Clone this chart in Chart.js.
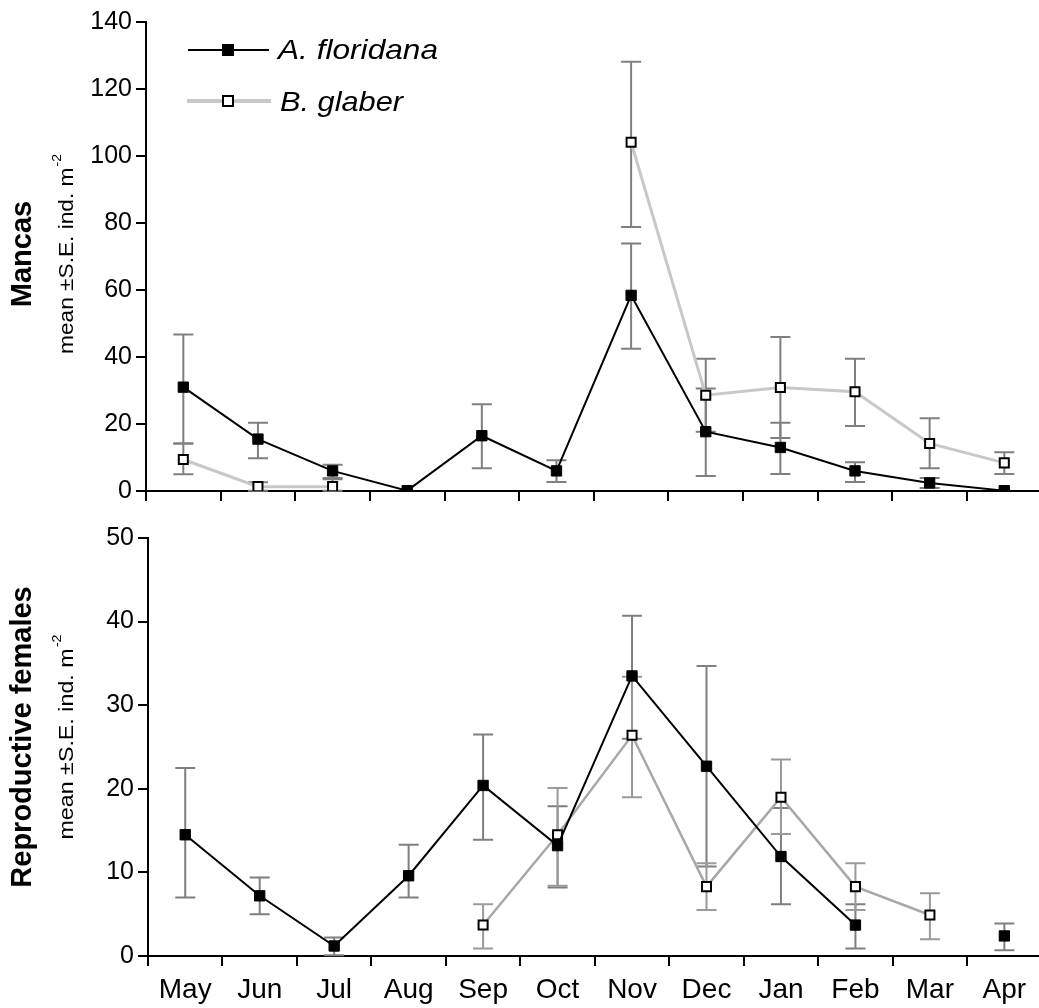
<!DOCTYPE html>
<html><head><meta charset="utf-8">
<script src="https://cdn.jsdelivr.net/npm/chart.js@4/dist/chart.umd.min.js"></script>
<style>
html,body{margin:0;padding:0;background:#fff;overflow:hidden;}
#wrap{position:relative;width:1039px;height:1008px;overflow:hidden;background:#fff;}
canvas{position:absolute;left:0;}
</style></head><body>
<div id="wrap">
<canvas id="cTop" width="1050" height="510" style="top:0"></canvas>
<canvas id="cBot" width="1050" height="498" style="top:510px"></canvas>
</div>
<script>
// ---- categories and tick labels ----
const months = ['May','Jun','Jul','Aug','Sep','Oct','Nov','Dec','Jan','Feb','Mar','Apr'];
const mancasTicks = [0, 20, 40, 60, 80, 100, 120, 140];
const femaleTicks = [0, 10, 20, 30, 40, 50];
const seriesNames = ['A. floridana', 'B. glaber'];

// ---- Mancas (top panel) ----
const mancasFloridana   = [31, 15.5, 6, 0.1, 16.5, 6, 58.4, 17.7, 13, 6, 2.4, 0.1];
const mancasFloridanaHi = [46.7, 20.4, 7.8, null, 25.9, 9.2, 73.9, 30.6, 20.4, 8.6, 3.9, null];
const mancasFloridanaLo = [14.2, 9.8, 3.9, null, 6.8, 2.7, 42.5, 4.5, 5.1, 2.7, 0.9, null];
const mancasGlaber      = [9.4, 1.3, 1.3, null, null, null, 104.1, 28.6, 30.9, 29.6, 14.2, 8.4];
const mancasGlaberHi    = [14.2, 2.6, 3.5, null, null, null, 128.1, 39.5, 46.0, 39.5, 21.7, 11.6];
const mancasGlaberLo    = [5.0, 0.1, 0.1, null, null, null, 78.8, 17.7, 15.8, 19.4, 6.8, 5.1];

// ---- Reproductive females (bottom panel) ----
const femFloridana   = [14.5, 7.2, 1.2, 9.6, 20.4, 13.2, 33.5, 22.7, 11.9, 3.7, null, 2.4];
const femFloridanaHi = [22.5, 9.4, 2.2, 13.3, 26.5, 17.9, 40.7, 34.7, 17.7, 6.2, null, 3.9];
const femFloridanaLo = [7.0, 5.0, 0.1, 7.0, 13.9, 8.2, 26.0, 10.7, 6.2, 0.9, null, 0.7];
const femGlaber      = [null, null, null, null, 3.7, 14.5, 26.4, 8.3, 19.0, 8.3, 4.9, null];
const femGlaberHi    = [null, null, null, null, 6.2, 20.1, 33.4, 11.1, 23.5, 11.1, 7.5, null];
const femGlaberLo    = [null, null, null, null, 0.9, 8.4, 19.0, 5.5, 14.6, 5.5, 2.0, null];

const FONT = "'Liberation Sans', Arial, Helvetica, sans-serif";

const errorBars = {
  id: 'errorBars',
  beforeDatasetsDraw(chart) {
    const ctx = chart.ctx, x = chart.scales.x, y = chart.scales.y;
    chart.data.datasets.forEach((ds) => {
      ctx.save();
      ctx.strokeStyle = ds.errColor;
      ctx.lineWidth = 2;
      ds.data.forEach((v, i) => {
        const hi = ds.errHi[i], lo = ds.errLo[i];
        if (v === null || hi === null || lo === null) return;
        const px = x.getPixelForValue(i);
        const pHi = y.getPixelForValue(hi), pLo = y.getPixelForValue(lo);
        ctx.beginPath();
        ctx.moveTo(px, pHi); ctx.lineTo(px, pLo);
        ctx.moveTo(px - 10, pHi); ctx.lineTo(px + 10, pHi);
        ctx.moveTo(px - 10, pLo); ctx.lineTo(px + 10, pLo);
        ctx.stroke();
      });
      ctx.restore();
    });
  }
};

function axisTitle(main, cx1, cy, cx2, subLen) {
  return {
    id: 'axisTitle',
    afterDraw(chart) {
      const ctx = chart.ctx;
      ctx.save();
      ctx.fillStyle = '#000';
      ctx.textAlign = 'center';
      ctx.textBaseline = 'middle';
      ctx.translate(cx1, cy); ctx.rotate(-Math.PI / 2);
      ctx.font = 'bold 29px ' + FONT;
      ctx.fillText(main, 0, 0);
      ctx.restore();
      ctx.save();
      ctx.fillStyle = '#000';
      ctx.textBaseline = 'middle';
      ctx.translate(cx2, cy); ctx.rotate(-Math.PI / 2);
      ctx.font = '21px ' + FONT;
      const sub = 'mean \u00b1S.E. ind. m';
      const w = ctx.measureText(sub).width;
      ctx.font = '13px ' + FONT;
      const w2 = ctx.measureText('-2').width;
      const k = subLen / (w + w2 + 1);
      ctx.scale(k, 1);
      const start = -(w + w2 + 1) / 2;
      ctx.font = '21px ' + FONT;
      ctx.fillText(sub, start, 0);
      ctx.font = '13px ' + FONT;
      ctx.fillText('-2', start + w + 1, -10);
      ctx.restore();
    }
  };
}

const legendPlugin = {
  id: 'customLegend',
  afterDraw(chart) {
    const ctx = chart.ctx;
    ctx.save();
    // A. floridana
    ctx.strokeStyle = '#000'; ctx.lineWidth = 2;
    ctx.beginPath(); ctx.moveTo(188, 50); ctx.lineTo(269, 50); ctx.stroke();
    ctx.fillStyle = '#000'; ctx.fillRect(222, 44, 12, 12);
    // B. glaber
    ctx.strokeStyle = '#c8c8c8'; ctx.lineWidth = 4;
    ctx.beginPath(); ctx.moveTo(187, 101); ctx.lineTo(271, 101); ctx.stroke();
    ctx.fillStyle = '#fff'; ctx.fillRect(223, 96, 10, 10);
    ctx.strokeStyle = '#000'; ctx.lineWidth = 2; ctx.strokeRect(223, 96, 10, 10);
    ctx.fillStyle = '#000';
    ctx.font = 'italic 28px ' + FONT;
    ctx.textBaseline = 'middle';
    const drawStretched = (txt, x, y, targetW) => {
      const w = ctx.measureText(txt).width;
      ctx.save();
      ctx.translate(x, y);
      ctx.scale(targetW / w, 1);
      ctx.fillText(txt, 0, 0);
      ctx.restore();
    };
    drawStretched(seriesNames[0], 278, 51, 160);
    drawStretched(seriesNames[1], 280, 103, 123);
    ctx.restore();
  }
};

function makeDatasets(fl, flHi, flLo, gl, glHi, glLo, glLine, glErr, glWidth) {
  return [
    { label: seriesNames[0], data: fl, errHi: flHi, errLo: flLo, errColor: '#7f7f7f',
      borderColor: '#000', borderWidth: 2, pointStyle: 'rect', pointRadius: 7.3,
      pointBackgroundColor: '#000', pointBorderColor: '#000', pointBorderWidth: 1,
      tension: 0, spanGaps: false },
    { label: seriesNames[1], data: gl, errHi: glHi, errLo: glLo, errColor: glErr,
      borderColor: glLine, borderWidth: glWidth, pointStyle: 'rect', pointRadius: 6.4,
      pointBackgroundColor: '#fff', pointBorderColor: '#000', pointBorderWidth: 2,
      tension: 0, spanGaps: false }
  ];
}

function makeOptions(yMax, yTicks, yWidth, xHeight, padTop, padRight, showX) {
  return {
    responsive: false, animation: false, devicePixelRatio: 1,
    layout: { padding: { top: padTop, right: padRight, left: 0, bottom: 0 } },
    plugins: { legend: { display: false }, tooltip: { enabled: false } },
    scales: {
      x: {
        type: 'category', offset: true,
        grid: { display: true, offset: true, drawOnChartArea: false, drawTicks: true,
                tickLength: 10, color: '#000', lineWidth: 2 },
        border: { display: true, color: '#000', width: 2 },
        ticks: { display: showX, color: '#000', font: { family: FONT, size: 28 }, padding: 7,
                 maxRotation: 0, autoSkip: false },
        afterFit(s) { s.height = xHeight; }
      },
      y: {
        min: 0, max: yMax,
        afterBuildTicks(s) { s.ticks = yTicks.map(v => ({ value: v })); },
        grid: { display: true, drawOnChartArea: false, drawTicks: true, tickLength: 10,
                color: '#000', lineWidth: 2 },
        border: { display: true, color: '#000', width: 2 },
        ticks: { color: '#000', font: { family: FONT, size: 25 }, padding: 4 },
        afterFit(s) { s.width = yWidth; }
      }
    }
  };
}

new Chart(document.getElementById('cTop'), {
  type: 'line',
  data: { labels: months,
    datasets: makeDatasets(mancasFloridana, mancasFloridanaHi, mancasFloridanaLo,
      mancasGlaber, mancasGlaberHi, mancasGlaberLo, '#c8c8c8', '#7f7f7f', 3) },
  options: makeOptions(140, mancasTicks, 146, 17, 22, 5, false),
  plugins: [errorBars, axisTitle('Mancas', 23, 254, 67, 200), legendPlugin]
});

new Chart(document.getElementById('cBot'), {
  type: 'line',
  data: { labels: months,
    datasets: makeDatasets(femFloridana, femFloridanaHi, femFloridanaLo,
      femGlaber, femGlaberHi, femGlaberLo, '#a8a8a8', '#9a9a9a', 2.5) },
  options: makeOptions(50, femaleTicks, 148, 52, 28, 8, true),
  plugins: [errorBars, axisTitle('Reproductive females', 23, 227, 67, 205)]
});
</script>
</body></html>
